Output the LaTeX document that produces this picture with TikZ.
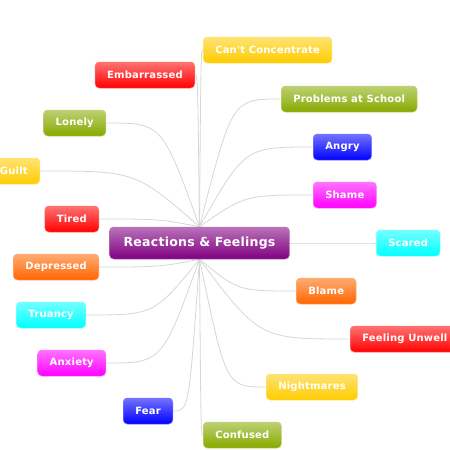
\documentclass[tikz,border=0pt]{standalone}
\usepackage{fontspec}
\newfontfamily\mapfont{DejaVu Sans}[LetterSpace=2]
\usetikzlibrary{backgrounds,calc}
\definecolor{mapyellow}{HTML}{FFCC00}
\definecolor{mapred}{HTML}{FF0000}
\definecolor{mapgreen}{HTML}{88AA00}
\definecolor{mapblue}{HTML}{0000FF}
\definecolor{mapmagenta}{HTML}{FF00FF}
\definecolor{mapcyan}{HTML}{00FFFF}
\definecolor{maporange}{HTML}{FF6600}
\definecolor{mappurple}{HTML}{800080}
\definecolor{maplink}{HTML}{D6D6D6}

\begin{document}
\begin{tikzpicture}[x=1pt,y=-1pt,
  leaf/.style={rounded corners=4pt,top color=#1!55!white,middle color=#1,bottom color=#1,
    draw=#1!55!white,line width=.5pt,text=white,inner xsep=12pt,minimum height=26pt,
    font=\mapfont\bfseries\fontsize{10}{12}\selectfont},
  hub/.style={leaf=mappurple,inner xsep=14pt,minimum height=32pt,
    font=\mapfont\bfseries\fontsize{12.5}{15}\selectfont},
  link/.style={maplink,line width=.8pt}]
\useasboundingbox (0,0) rectangle (450,450);
\clip (0,0) rectangle (450,450);

\node[hub] (feelings) at (199.5,243) {Reactions \& Feelings};

% left side
\node[leaf=mapred,anchor=east] (embarrassed) at (195,75) {Embarrassed};
\node[leaf=mapgreen,anchor=east] (lonely) at (106,123) {Lonely};
\node[leaf=mapyellow,anchor=east] (guilt) at (40,171) {Guilt};
\node[leaf=mapred,anchor=east] (tired) at (99,219) {Tired};
\node[leaf=maporange,anchor=east] (depressed) at (99,267) {Depressed};
\node[leaf=mapcyan,anchor=east] (truancy) at (86,315) {Truancy};
\node[leaf=mapmagenta,anchor=east] (anxiety) at (106,363) {Anxiety};
\node[leaf=mapblue,anchor=east] (fear) at (173,411) {Fear};

% right side
\node[leaf=mapyellow,anchor=west] (concentrate) at (203,50) {Can't Concentrate};
\node[leaf=mapgreen,anchor=west] (school) at (281,99) {Problems at School};
\node[leaf=mapblue,anchor=west] (angry) at (313,147) {Angry};
\node[leaf=mapmagenta,anchor=west] (shame) at (313,195) {Shame};
\node[leaf=mapcyan,anchor=west] (scared) at (376,243) {Scared};
\node[leaf=maporange,anchor=west] (blame) at (296,291) {Blame};
\node[leaf=mapred,anchor=west] (unwell) at (350,339) {Feeling Unwell};
\node[leaf=mapyellow,anchor=west] (nightmares) at (266,387) {Nightmares};
\node[leaf=mapgreen,anchor=west] (confused) at (203,435) {Confused};

% links leave the hub from its top or bottom edge
\begin{scope}[on background layer]
\foreach \k/\s/\h in {embarrassed/east/north,lonely/east/north,guilt/east/north,
    tired/east/north,depressed/east/south,truancy/east/south,anxiety/east/south,
    fear/east/south,concentrate/west/north,school/west/north,angry/west/north,
    shame/west/north,scared/west/east,blame/west/south,unwell/west/south,
    nightmares/west/south,confused/west/south}{
  \draw[link] let \p1=(feelings.\h), \p2=(\k.\s) in
    (\p1) .. controls ({\x1+.4*(\x2-\x1)},\y2) .. (\p2);
}
\end{scope}
\end{tikzpicture}
\end{document}
